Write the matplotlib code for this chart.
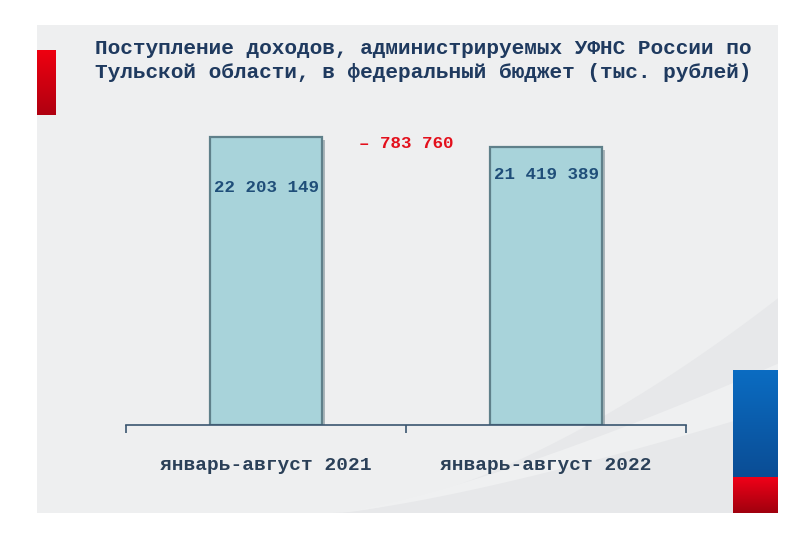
import numpy as np
import matplotlib
matplotlib.use("Agg")
import matplotlib.pyplot as plt
from matplotlib.patches import Rectangle, Polygon

# data
periods = ["январь-август 2021", "январь-август 2022"]
revenue = [22203149, 21419389]  # тыс. рублей
title_lines = [
    "Поступление доходов, администрируемых УФНС России по",
    "Тульской области, в федеральный бюджет (тыс. рублей)",
]

W, H = 800, 533


def box(x0, y0, x1, y1):
    # pixel box (top-left origin) -> figure fraction [left, bottom, width, height]
    return [x0 / W, 1 - y1 / H, (x1 - x0) / W, (y1 - y0) / H]


def gradient(fig, rect, top, bottom, z=1):
    gax = fig.add_axes(box(*rect), zorder=z)
    c0 = np.array(matplotlib.colors.to_rgb(top))
    c1 = np.array(matplotlib.colors.to_rgb(bottom))
    t = np.linspace(0, 1, 64)[:, None]
    img = (c0 * (1 - t) + c1 * t)[:, None, :]
    gax.imshow(img, aspect="auto", extent=(0, 1, 0, 1))
    gax.set_axis_off()


def fmt(v):
    return f"{v:,}".replace(",", " ")


fig = plt.figure(figsize=(W / 100, H / 100), dpi=100)
fig.patch.set_facecolor("white")

# grey slide panel with a faint swoosh in the corner
panel = fig.add_axes(box(37, 25, 778, 513), zorder=0)
panel.set_xlim(0, 1)
panel.set_ylim(0, 1)
panel.set_axis_off()
panel.add_patch(Rectangle((0, 0), 1, 1, color="#eeeff0"))
curve_x = np.linspace(0.4, 1, 40)
curve_y = 0.44 * ((curve_x - 0.4) / 0.6) ** 1.6
panel.add_patch(Polygon(np.column_stack([np.r_[curve_x, 1], np.r_[curve_y, 0]]),
                        color="#e7e8ea", lw=0))
curve_y2 = 0.36 * ((curve_x - 0.4) / 0.6) ** 1.3
panel.add_patch(Polygon(np.column_stack([np.r_[curve_x, curve_x[::-1]],
                                         np.r_[curve_y2 * 0.85, curve_y2[::-1] * 0.6]]),
                        color="#eff0f1", lw=0))

# flag-like blocks
gradient(fig, (37, 50, 55, 115), "#ee0010", "#b00010", z=2)
gradient(fig, (733, 370, 778, 477), "#0b6cc2", "#0a4d95", z=2)
gradient(fig, (733, 477, 778, 513), "#f00018", "#a0000e", z=2)

for i, line in enumerate(title_lines):
    fig.text(95 / W, 1 - (48 + 25 * i) / H, line, family="Liberation Mono", weight="bold",
             fontsize=15.2, color="#1f3a5f", va="center", ha="left")

ax = fig.add_axes(box(126, 125, 686, 425), zorder=3)
ax.patch.set_alpha(0)
x = np.arange(len(periods))
ax.bar(x + 0.012, revenue, width=0.4, bottom=-250000, color="#7d8f96", alpha=0.6, zorder=1)
ax.bar(x, revenue, width=0.4, color="#a8d3da", edgecolor="#5f808a", linewidth=1.6, zorder=2)

ax.set_xlim(-0.5, 1.5)
ax.set_ylim(0, revenue[0] * 300 / 288)
for s in ["top", "left", "right"]:
    ax.spines[s].set_visible(False)
ax.spines["bottom"].set_color("#3a5670")
ax.spines["bottom"].set_linewidth(1.2)
ax.set_yticks([])
ax.set_xticks([-0.5, 0.5, 1.5])
ax.set_xticklabels([])
ax.tick_params(axis="x", which="major", length=5.5, width=1.2, color="#3a5670", direction="out")
ax.set_xticks(x, minor=True)
ax.set_xticklabels(periods, minor=True, family="Liberation Mono", weight="bold",
                   fontsize=14, color="#2b4058")
ax.tick_params(axis="x", which="minor", length=0, pad=23)

label_y = [revenue[0] * 0.826, revenue[1] * 0.90]
for xi, v, ly in zip(x, revenue, label_y):
    ax.text(xi, ly, fmt(v), ha="center", va="center", family="Liberation Mono", weight="bold",
            fontsize=12.6, color="#1f4e79", zorder=4)

diff = revenue[0] - revenue[1]
ax.text(0.5, revenue[0] * 0.979, "– " + fmt(diff), ha="center", va="center",
        family="Liberation Mono", weight="bold", fontsize=12.6, color="#e3101c", zorder=4)

fig.savefig("out.png", dpi=100)
